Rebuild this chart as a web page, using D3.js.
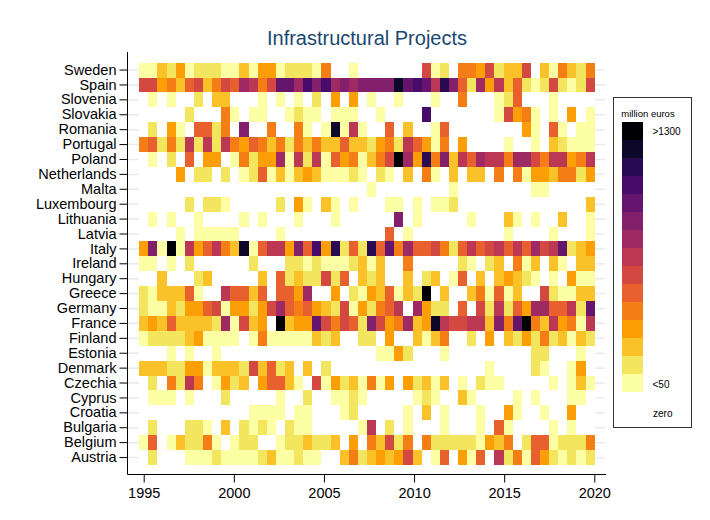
<!DOCTYPE html>
<html>
<head>
<meta charset="utf-8">
<script src="https://cdn.jsdelivr.net/npm/d3@7"></script>
<style>
  body { margin: 0; background: #fff; }
  text { font-family: "Liberation Sans", Arial, sans-serif; }
</style>
</head>
<body>
<div id="chart"></div>
<script>
// countries, top to bottom
const countries = [
  "Sweden", "Spain", "Slovenia", "Slovakia", "Romania", "Portugal", "Poland",
  "Netherlands", "Malta", "Luxembourg", "Lithuania", "Latvia", "Italy",
  "Ireland", "Hungary", "Greece", "Germany", "France", "Finland", "Estonia",
  "Denmark", "Czechia", "Cyprus", "Croatia", "Bulgaria", "Belgium", "Austria"
];

// half-year periods, 1995 .. 2019.5
const halfYears = d3.range(50).map((i) => 1995 + i / 2);

// legend class per half-year (hex digit, blocks of 5 years):
// 0 = zero, 1 = <50 ... f = >1300
const bins = [
  "1132412221 1314412221 5001000000 0712055472 3370315325", // Sweden
  "7745367357 69857bb9ca c9a9aaaaeb cb8da62948 3621272127", // Spain
  "0101002033 0001010102 0404010010 0010050001 2600010000", // Slovenia
  "0000020005 1011001211 0111001000 0c00000001 7451010401", // Slovakia
  "0204106625 0a00500510 1e18100603 0016000000 0041061011", // Romania
  "5625282828 5465352535 3363324528 6415040000 1001032111", // Portugal
  "0102060440 1524491828 16451357f9 4d5a386988 5997588458", // Poland
  "0000402202 0126131343 1112102103 0510303305 0514435524", // Netherlands
  "0000000000 0000000000 0000010000 0000100000 0001100000", // Malta
  "0000020221 0000020410 3101000110 1011200000 0000000003", // Luxembourg
  "0101001000 0101000100 01000000a0 1000001000 3101003001", // Lithuania
  "0000101111 1000010000 0000000601 0000000000 1000010001", // Latvia
  "4a1f184685 3e16884a6c 4d262d6b59 6675268678 686978b234", // Italy
  "1101020000 0020002212 1112313005 0000021023 0513031033", // Ireland
  "0030002300 0003062322 7260323003 0230160303 4321010411", // Hungary
  "2133361008 6636066490 0402143613 2f03003516 1300721133", // Greece
  "2113244671 4424796564 3271425680 9422060728 264996682b", // Germany
  "3436333329 17340f344b 75762a7459 34e877883a 5bf5384518", // France
  "1222234111 1015111113 2300220400 3135002040 3242523132", // Finland
  "0001010010 0000000000 0000001142 0001000000 0002200010", // Estonia
  "3332244133 3273623030 2000000000 0000000010 0002100140", // Denmark
  "0205285014 2304663107 1423151404 2313010211 0000010131", // Czechia
  "0111010002 0000010020 0112100000 1210031000 0101000110", // Cyprus
  "0000000000 0011110110 0012000001 0301000100 4100100400", // Croatia
  "0200022103 0212102110 0000180201 0001000106 1000010100", // Bulgaria
  "1601322510 1220012232 2304053725 0522222143 5026612225", // Belgium
  "0200011121 1112311211 0035234347 3016041608 2516421212"  // Austria
];

const yearTicks = [1995, 2000, 2005, 2010, 2015, 2020];
const legendLevels = d3.range(15, 0, -1);
const legendTitle = "million euros";
const legendTop = ">1300", legendBottom = "<50", legendZero = "zero";

const width = 710, height = 520;

const svg = d3.select("#chart").append("svg")
  .attr("width", width)
  .attr("height", height)
  .style("display", "block");

svg.append("rect").attr("width", width).attr("height", height).attr("fill", "#fff");

const color = (L) => (L === 0 ? "#ffffff" : d3.interpolateInferno(1 - (L - 1) / 14));

const x = d3.scaleBand().domain(halfYears).range([139.2, 594.7]);
const xAxisScale = d3.scaleLinear().domain([1995, 2020]).range([143.7, 594.3]);
const y = d3.scaleBand().domain(countries).range([62.6, 465]);

// grid lines
svg.append("g")
  .selectAll("line")
  .data(countries)
  .join("line")
  .attr("x1", 128)
  .attr("x2", 605)
  .attr("y1", (d) => y(d) + y.bandwidth() / 2)
  .attr("y2", (d) => y(d) + y.bandwidth() / 2)
  .attr("stroke", "#e4ecee")
  .attr("stroke-width", 1.5);

// cells
const cells = [];
countries.forEach((c, r) => {
  const row = bins[r].replace(/ /g, "");
  halfYears.forEach((h, i) => {
    cells.push({ country: c, period: h, level: parseInt(row[i], 16) });
  });
});

svg.append("g")
  .attr("shape-rendering", "crispEdges")
  .selectAll("rect")
  .data(cells)
  .join("rect")
  .attr("x", (d) => x(d.period))
  .attr("y", (d) => y(d.country))
  .attr("width", x.bandwidth() + 0.3)
  .attr("height", y.bandwidth() + 0.3)
  .attr("fill", (d) => color(d.level));

// axes
const yAxis = svg.append("g")
  .attr("transform", "translate(127.5,0)")
  .call(d3.axisLeft(y).tickSize(8).tickPadding(3));
yAxis.select(".domain").attr("d", "M0,52V474.5");
yAxis.selectAll("text").attr("font-size", 14.5).attr("fill", "#000");

const xAxis = svg.append("g")
  .attr("transform", "translate(0,474.5)")
  .call(d3.axisBottom(xAxisScale).tickValues(yearTicks).tickFormat(d3.format("d")).tickSize(8).tickPadding(5));
xAxis.select(".domain").attr("d", "M127.5,0H606");
xAxis.selectAll("text").attr("font-size", 14.5).attr("fill", "#000");

svg.selectAll(".domain, .tick line").attr("stroke", "#000");

// title
svg.append("text")
  .attr("x", 367)
  .attr("y", 45)
  .attr("text-anchor", "middle")
  .attr("font-size", 20)
  .attr("fill", "#1a476f")
  .text("Infrastructural Projects");

// legend
const lg = svg.append("g");
lg.append("rect")
  .attr("x", 613.5).attr("y", 97.5)
  .attr("width", 78).attr("height", 330)
  .attr("fill", "#fff")
  .attr("stroke", "#333");

lg.append("text")
  .attr("x", 648).attr("y", 117)
  .attr("text-anchor", "middle")
  .attr("font-size", 9.5)
  .text(legendTitle);

const ly = d3.scaleBand().domain(legendLevels).range([122.3, 391.7]);
lg.append("g")
  .attr("shape-rendering", "crispEdges")
  .selectAll("rect")
  .data(legendLevels)
  .join("rect")
  .attr("x", 622.3)
  .attr("y", (d) => ly(d))
  .attr("width", 21)
  .attr("height", ly.bandwidth() + 0.3)
  .attr("fill", (d) => color(d));

lg.append("text").attr("x", 652.5).attr("y", ly(15) + ly.bandwidth() / 2 + 3.5)
  .attr("font-size", 10).text(legendTop);
lg.append("text").attr("x", 652.5).attr("y", ly(1) + ly.bandwidth() / 2 + 5)
  .attr("font-size", 10).text(legendBottom);
lg.append("text").attr("x", 653).attr("y", 416.5)
  .attr("font-size", 10).text(legendZero);
</script>
</body>
</html>
